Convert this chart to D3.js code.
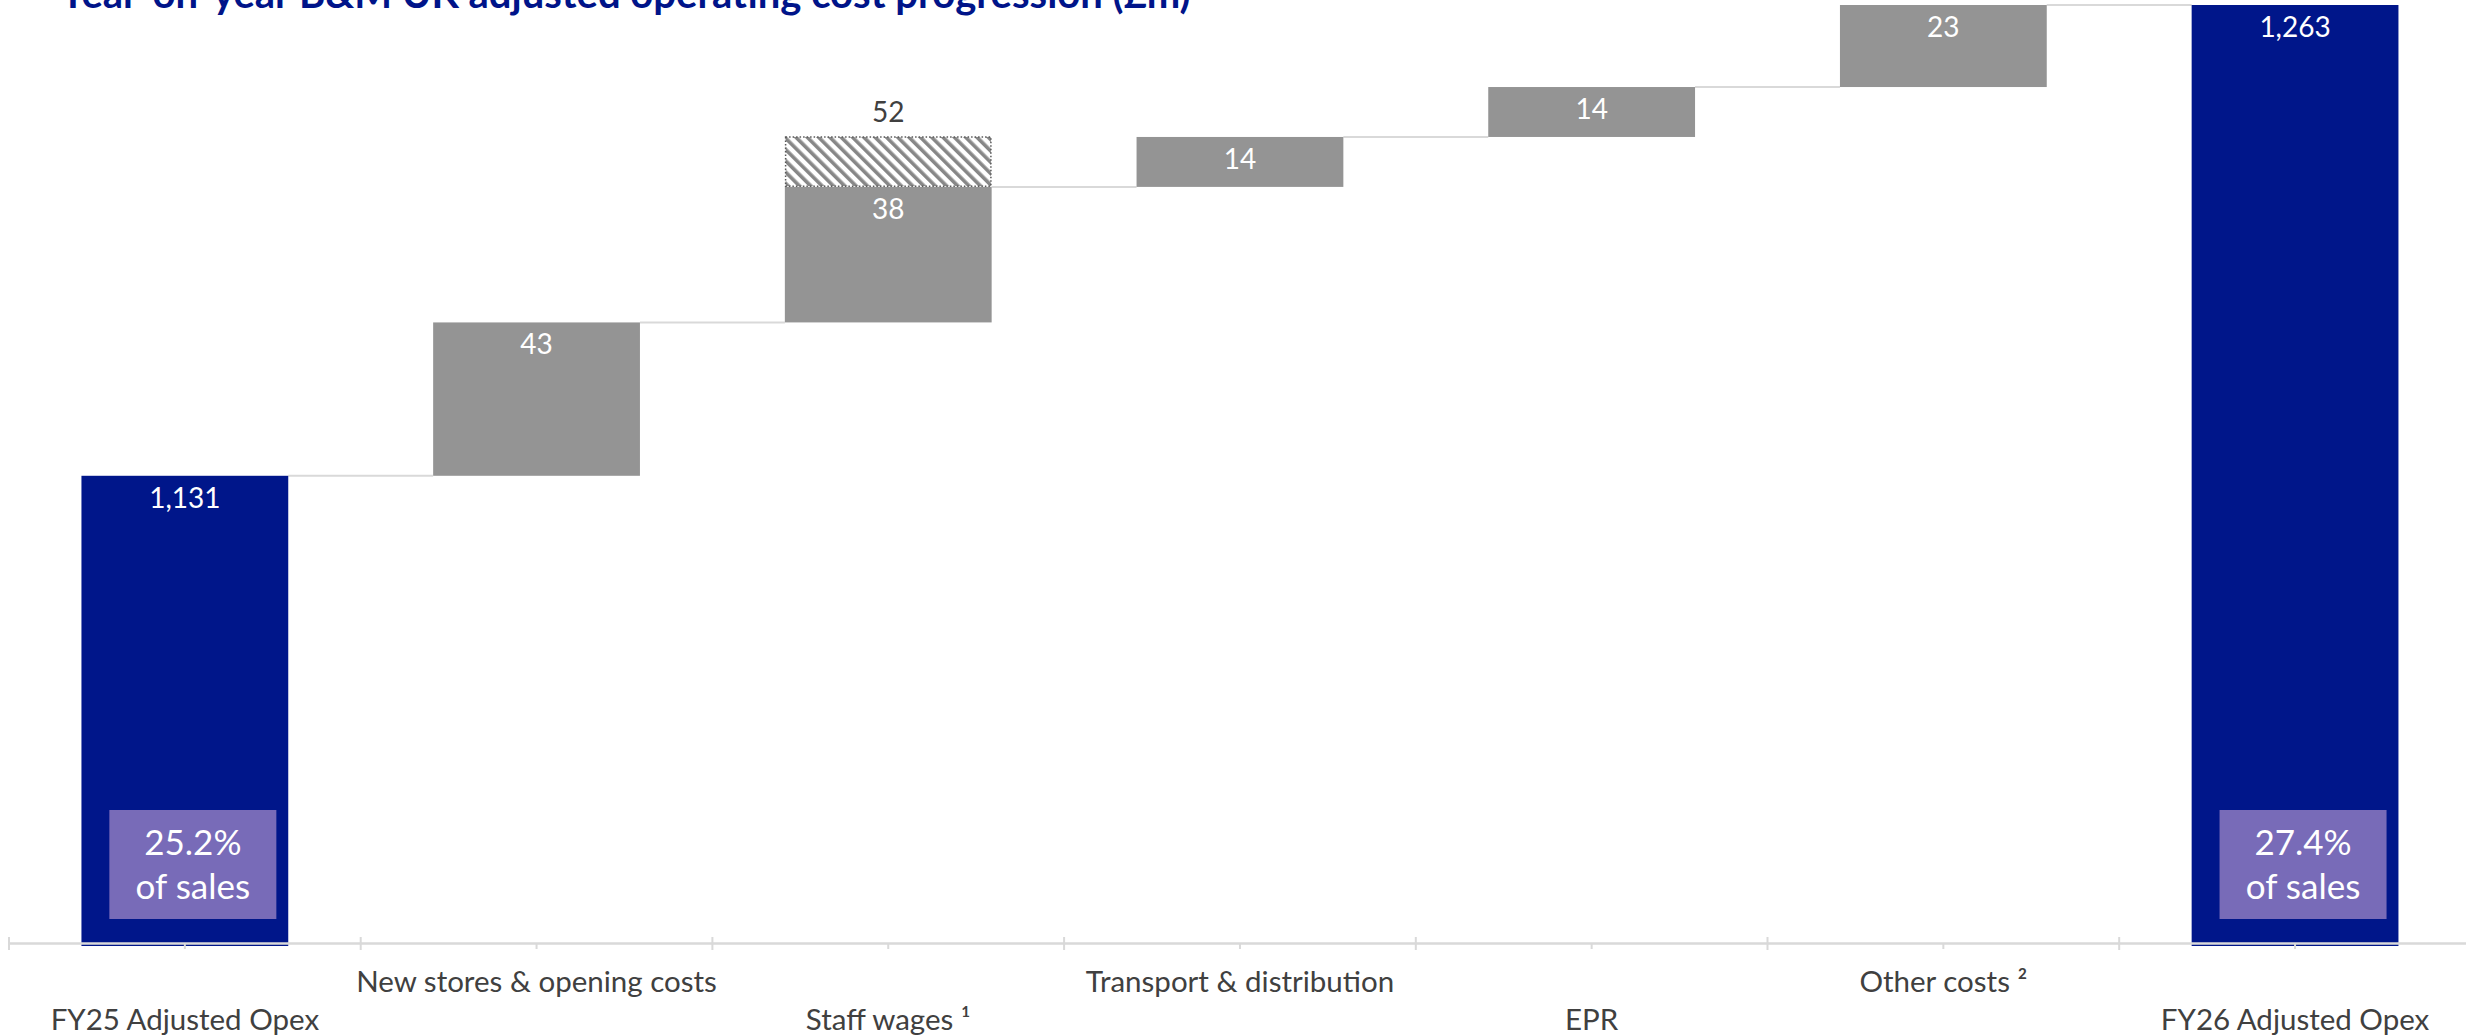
<!DOCTYPE html>
<html><head><meta charset="utf-8">
<script src="https://cdn.jsdelivr.net/npm/d3@7"></script>
<style>
body{margin:0;background:#fff;}
svg{display:block;}
text{font-family:Lato,"Open Sans",sans-serif;}
</style>
</head><body>
<svg id="chart" width="2466" height="1035"></svg>
<script>
// ---------- data ----------
const title = "Year-on-year B&M UK adjusted operating cost progression (£m)";
const categories = ["FY25 Adjusted Opex","New stores & opening costs","Staff wages \u00b9","Transport & distribution","EPR","Other costs \u00b2","FY26 Adjusted Opex"];
const values = [1131, 43, 38, 14, 14, 23, 1263];
const kinds = ["total","delta","delta","delta","delta","delta","total"];
const staffWagesIncl = 52;          // staff wages incl. hatched part
const hatchCategory = "Staff wages \u00b9";
const pctOfSales = ["25.2%", null, null, null, null, null, "27.4%"];
const pctSuffix = "of sales";
const yDomain = [1000, 1263];

// ---------- layout ----------
const W = 2466, H = 1035;
const svg = d3.select("#chart");
const BLUE = "#00168a", GREY = "#949494", PURPLE = "#786bb8", LINE = "#d9d9d9", TXT = "#404040";

const x = d3.scaleBand().domain(categories).range([9, 9 + 7*351.7]).paddingInner(0.412).paddingOuter(0.206);
const y = d3.scaleLinear().domain(yDomain).range([943, 5]);

// running totals
let run = 0;
const bars = categories.map((c, i) => {
  let lo, hi;
  if (kinds[i] === "total") { lo = yDomain[0]; hi = values[i]; run = values[i]; }
  else { lo = run; hi = run + values[i]; run = hi; }
  return {c, i, lo, hi, v: values[i], kind: kinds[i], end: run};
});

const defs = svg.append("defs");
const pat = defs.append("pattern").attr("id","hatch").attr("patternUnits","userSpaceOnUse")
  .attr("width",8).attr("height",8).attr("patternTransform","rotate(-45)");
pat.append("rect").attr("width",8).attr("height",8).attr("fill","#fff");
pat.append("rect").attr("width",3.6).attr("height",8).attr("fill","#878787");

// connectors
svg.append("g").selectAll("line").data(bars.slice(0,-1)).join("line")
  .attr("x1", d => x(d.c) + x.bandwidth())
  .attr("x2", d => x(categories[d.i+1]))
  .attr("y1", d => y(d.end)).attr("y2", d => y(d.end))
  .attr("stroke", LINE).attr("stroke-width", 2);

// bars
svg.append("g").selectAll("rect").data(bars).join("rect")
  .attr("x", d => x(d.c)).attr("width", x.bandwidth())
  .attr("y", d => y(d.hi))
  .attr("height", d => (d.kind === "total" ? y(d.lo) + 3 : y(d.lo)) - y(d.hi))
  .attr("fill", d => d.kind === "total" ? BLUE : GREY);

// hatched extra for staff wages
const hb = bars.find(b => b.c === hatchCategory);
const hatchTop = hb.lo + staffWagesIncl;
svg.append("rect")
  .attr("x", x(hb.c) + 0.75).attr("width", x.bandwidth() - 1.5)
  .attr("y", y(hatchTop)).attr("height", y(hb.hi) - y(hatchTop) - 0.75)
  .attr("fill", "url(#hatch)").attr("stroke", "#5a5a5a").attr("stroke-width", 1.5)
  .attr("stroke-dasharray", "1.5,2");
svg.append("text").attr("x", x(hb.c) + x.bandwidth()/2).attr("y", y(hatchTop) - 15)
  .attr("text-anchor","middle").attr("font-size", 28).attr("fill", TXT).text(staffWagesIncl);

// value labels
const fmt = d3.format(",");
svg.append("g").selectAll("text").data(bars).join("text")
  .attr("x", d => x(d.c) + x.bandwidth()/2)
  .attr("y", d => y(d.hi) + 32)
  .attr("text-anchor","middle").attr("font-size", 28).attr("fill","#fff")
  .text(d => fmt(d.v));

// % of sales boxes
const pb = bars.filter((d) => pctOfSales[d.i]);
const pg = svg.append("g").selectAll("g").data(pb).join("g")
  .attr("transform", d => `translate(${x(d.c) + x.bandwidth()/2 + 8},0)`);
pg.append("rect").attr("x", -83.5).attr("width", 167).attr("y", 810).attr("height", 109).attr("fill", PURPLE);
pg.append("text").attr("y", 855).attr("text-anchor","middle").attr("font-size",35).attr("fill","#fff").text(d => pctOfSales[d.i]);
pg.append("text").attr("y", 899).attr("text-anchor","middle").attr("font-size",35).attr("fill","#fff").text(pctSuffix);

// axis
const axis = d3.axisBottom(x).tickSize(6).tickSizeOuter(0).tickFormat(d => d);
const ag = svg.append("g").attr("transform", `translate(0,${y(yDomain[0])})`).call(axis);
ag.select(".domain").attr("stroke", LINE).attr("stroke-width", 2.5);
ag.selectAll(".tick line").attr("stroke", LINE).attr("stroke-width", 2);
ag.selectAll(".tick text")
  .attr("font-family", "Lato, 'Open Sans', sans-serif")
  .attr("font-size", 29.5).attr("fill", TXT)
  .attr("dy", null)
  .attr("y", (d, i) => i % 2 === 0 ? 87 : 49);
// band boundary ticks
ag.append("g").selectAll("line").data(d3.range(categories.length + 1)).join("line")
  .attr("x1", i => x.range()[0] + i * x.step()).attr("x2", i => x.range()[0] + i * x.step())
  .attr("y1", -6).attr("y2", 7).attr("stroke", LINE).attr("stroke-width", 2);

// title (partly cut at the top edge, as in the reference)
svg.append("text").attr("x", 60).attr("y", 8)
  .attr("font-size", 40).attr("font-weight", 700).attr("fill", "#001489").text(title);
</script>
</body></html>
